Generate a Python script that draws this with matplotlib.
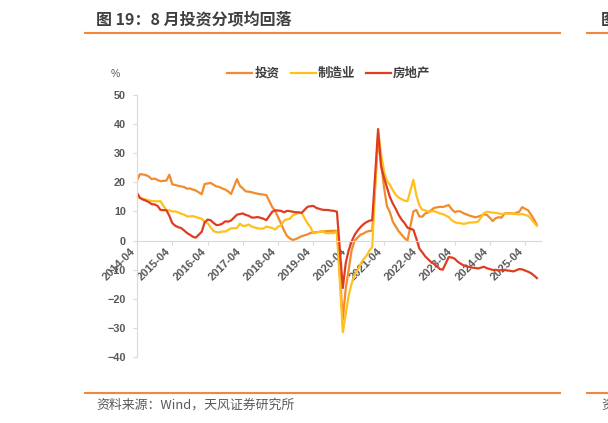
import matplotlib
matplotlib.use("Agg")
import matplotlib.pyplot as plt
from matplotlib.lines import Line2D

plt.rcParams['font.family'] = ['Noto Sans CJK SC', 'DejaVu Sans']

# ---- data (cumulative yoy, %, monthly, Jan merged into Feb) ----
years = list(range(2014, 2026))
infra = {
    2014: [20.7, 22.8, 22.7, 22.5, 22.0, 21.1, 21.3, 20.8, 20.4],
    2015: [20.6, 22.6, 19.3, 19.1, 18.8, 18.6, 18.4, 17.8, 17.9, 17.5, 17.2],
    2016: [15.9, 19.4, 19.6, 19.8, 19.2, 18.6, 18.4, 17.9, 17.5, 16.9, 16.0],
    2017: [21.1, 18.8, 17.9, 16.9, 16.8, 16.6, 16.3, 16.1, 15.9, 15.8, 15.6],
    2018: [11.5, 10.2, 8.0, 5.8, 3.5, 1.6, 0.7, 0.2, 0.5, 1.0, 1.5],
    2019: [2.1, 2.6, 2.8, 2.9, 3.0, 3.1, 3.2, 3.3, 3.3, 3.4, 3.3],
    2020: [-27.0, -16.4, -10.0, -3.3, -0.1, 1.0, 2.0, 2.4, 3.0, 3.3, 3.4],
    2021: [35.0, 26.8, 18.4, 11.8, 9.8, 6.5, 4.8, 3.2, 2.0, 0.8, 0.0],
    2022: [10.0, 10.5, 8.3, 8.2, 9.3, 9.6, 10.4, 11.2, 11.4, 11.6, 11.5],
    2023: [12.2, 10.8, 9.8, 10.1, 10.0, 9.4, 9.0, 8.6, 8.3, 8.0, 8.2],
    2024: [9.0, 8.8, 7.8, 6.7, 7.7, 8.0, 7.9, 9.3, 9.4, 9.4, 9.2],
    2025: [9.9, 11.5, 10.9, 10.4, 8.9, 7.3, 5.4],
}
manuf = {
    2014: [15.0, 14.6, 14.3, 14.1, 13.8, 13.6, 13.5, 13.5, 13.5],
    2015: [10.4, 10.4, 10.0, 10.0, 9.7, 9.2, 8.9, 8.3, 8.3, 8.4, 8.1],
    2016: [7.5, 6.4, 6.0, 4.6, 3.3, 2.9, 2.8, 3.1, 3.1, 3.6, 4.2],
    2017: [4.3, 5.8, 5.0, 5.1, 5.5, 4.8, 4.5, 4.2, 4.1, 4.1, 4.8],
    2018: [4.3, 3.8, 4.8, 5.2, 6.8, 7.3, 7.5, 8.7, 9.1, 9.5, 9.5],
    2019: [5.9, 4.6, 2.5, 2.7, 3.0, 3.3, 2.6, 2.5, 2.6, 2.5, 3.1],
    2020: [-31.5, -25.2, -18.8, -14.8, -11.7, -10.2, -8.1, -6.5, -5.3, -3.5, -2.2],
    2021: [37.3, 29.8, 23.8, 20.4, 19.2, 17.3, 15.7, 14.8, 14.2, 13.7, 13.5],
    2022: [20.9, 15.6, 12.2, 10.6, 10.4, 9.9, 10.0, 10.1, 9.7, 9.3, 9.1],
    2023: [8.1, 7.0, 6.4, 6.0, 6.0, 5.7, 5.9, 6.2, 6.2, 6.3, 6.5],
    2024: [9.4, 9.9, 9.7, 9.6, 9.5, 9.3, 9.1, 9.2, 9.3, 9.3, 9.2],
    2025: [9.0, 9.1, 8.8, 8.5, 7.5, 6.2, 5.1],
}
estate = {
    2014: [16.4, 14.7, 14.1, 13.7, 13.2, 12.5, 12.4, 11.9, 10.5],
    2015: [10.4, 8.5, 6.0, 5.1, 4.6, 4.3, 3.5, 2.6, 2.0, 1.3, 1.0],
    2016: [3.0, 6.2, 7.2, 7.0, 6.1, 5.3, 5.4, 5.8, 6.6, 6.5, 6.9],
    2017: [8.9, 9.1, 9.3, 8.8, 8.5, 7.9, 7.9, 8.1, 7.8, 7.5, 7.0],
    2018: [9.9, 10.4, 10.3, 10.2, 9.7, 10.2, 10.1, 9.9, 9.7, 9.7, 9.5],
    2019: [11.6, 11.8, 11.9, 11.2, 10.9, 10.6, 10.5, 10.5, 10.3, 10.2, 9.9],
    2020: [-16.3, -7.7, -3.3, -0.3, 1.9, 3.4, 4.6, 5.6, 6.3, 6.8, 7.0],
    2021: [38.3, 25.6, 21.6, 18.3, 15.0, 12.7, 10.9, 8.8, 7.2, 6.0, 4.4],
    2022: [3.7, 0.7, -2.7, -4.0, -5.4, -6.4, -7.4, -8.0, -8.8, -9.8, -10.0],
    2023: [-5.7, -5.8, -6.2, -7.2, -7.9, -8.5, -8.8, -9.1, -9.3, -9.4, -9.6],
    2024: [-9.0, -9.5, -9.8, -10.1, -10.1, -10.2, -10.2, -10.1, -10.3, -10.4, -10.6],
    2025: [-9.8, -9.9, -10.3, -10.7, -11.2, -12.0, -12.9],
}
tick_labels = ["%d-04" % y for y in range(2014, 2026)]
series_names = ["投资", "制造业", "房地产"]
colors = ["#F28A2E", "#FFC01E", "#DF3D22"]


def months_of(year):
    if year == 2014:
        return list(range(4, 13))
    if year == 2025:
        return list(range(2, 9))
    return list(range(2, 13))


def flatten(d):
    xs, ys = [], []
    for y in years:
        for m, v in zip(months_of(y), d[y]):
            xs.append((y - 2014) * 12 + (m - 4))
            ys.append(v)
    return xs, ys


W, H = 608, 423
fig = plt.figure(figsize=(W / 100, H / 100), dpi=100)
ax = fig.add_axes([137 / W, 1 - 357 / H, (541 - 137) / W, (357 - 95) / H])

handles = []
for d, c, n in zip([infra, manuf, estate], colors, series_names):
    xs, ys = flatten(d)
    ln, = ax.plot(xs, ys, color=c, lw=1.6, label=n, solid_joinstyle='round')
    handles.append(ln)

ax.set_xlim(0, 137.4)
ax.set_ylim(-40, 50)
ax.set_yticks(range(-40, 51, 10))
for s in ['top', 'right']:
    ax.spines[s].set_visible(False)
ax.spines['left'].set_color('#D9D9D9')
ax.spines['bottom'].set_color('#D9D9D9')
ax.spines['bottom'].set_position(('data', 0))
ax.set_xticks([12 * i for i in range(len(tick_labels))])
ax.set_xticklabels(tick_labels, rotation=45, ha='right', va='top',
                   fontsize=8, fontweight='bold', color='#595959',
                   family=['Liberation Sans', 'DejaVu Sans'])
ax.tick_params(axis='x', length=3, color='#D9D9D9', pad=1)
ax.tick_params(axis='y', length=3, color='#D9D9D9', pad=5)
for t in ax.get_yticklabels():
    t.set_fontsize(7.8)
    t.set_fontweight('bold')
    t.set_color('#595959')
    t.set_family(['Liberation Sans', 'DejaVu Sans'])

fig.text(115 / W, 1 - 74 / H, "%", fontsize=7.5, color='#595959',
         ha='center', va='center', family=['Liberation Sans', 'DejaVu Sans'])

leg = fig.legend(handles=handles, loc='center', ncol=3,
                 bbox_to_anchor=(329 / W, 1 - 73.5 / H), frameon=False,
                 handlelength=2.0, handletextpad=0.15, columnspacing=0.9,
                 prop={'size': 9, 'weight': 'bold'})
for t in leg.get_texts():
    t.set_color('#404040')

# header / footer
fig.text(96 / W, 1 - 19.5 / H, "图 19：8 月投资分项均回落", fontsize=11.5,
         fontweight='bold', color='#404040', ha='left', va='center')
fig.text(601 / W, 1 - 19.5 / H, "图", fontsize=11.5, fontweight='bold',
         color='#404040', ha='left', va='center')
line_c = '#F0893A'
for y in (33, 393):
    fig.add_artist(Line2D([85 / W, 560 / W], [1 - y / H, 1 - y / H],
                          transform=fig.transFigure, color=line_c, lw=1.5))
    fig.add_artist(Line2D([587 / W, 1.0], [1 - y / H, 1 - y / H],
                          transform=fig.transFigure, color=line_c, lw=1.5))
fig.text(96 / W, 1 - 405.5 / H, "资料来源：Wind，天风证券研究所", fontsize=9.3,
         color='#595959', ha='left', va='center')
fig.text(601 / W, 1 - 405.5 / H, "资", fontsize=9.3,
         color='#595959', ha='left', va='center')

fig.savefig("out.png", dpi=100)
